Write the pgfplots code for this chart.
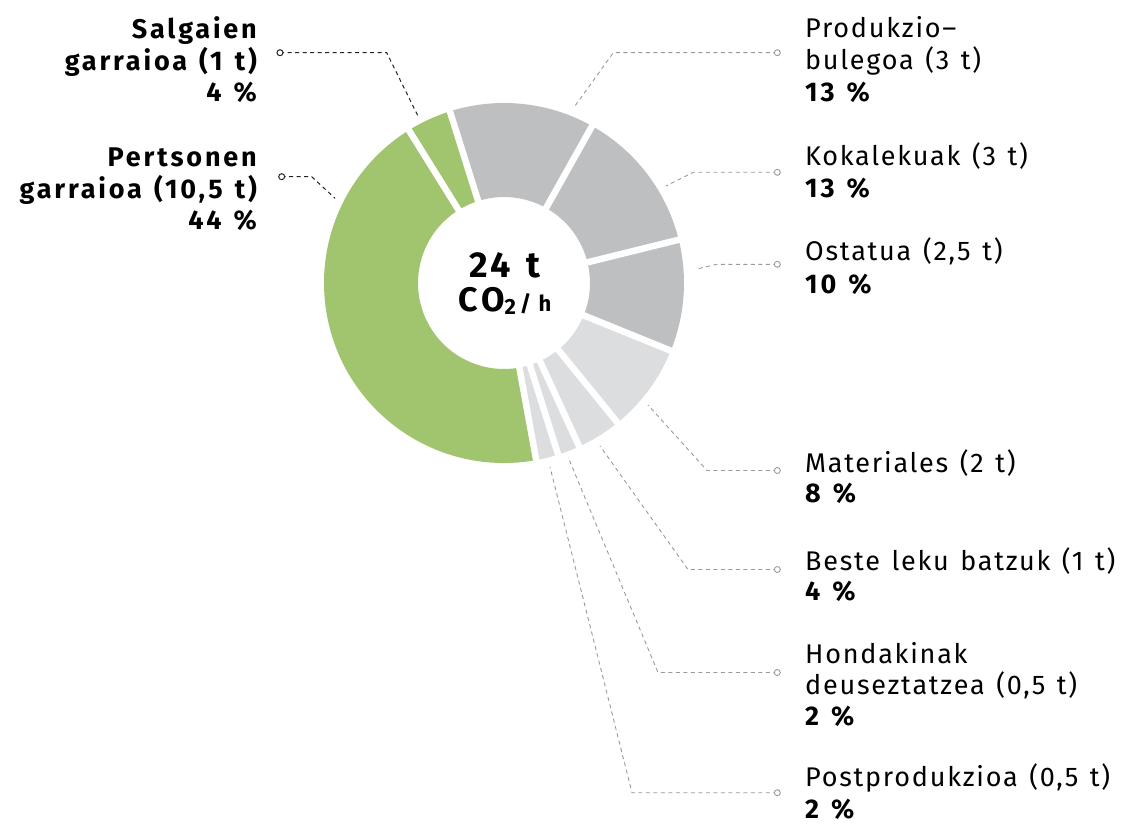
\documentclass[border=0pt]{standalone}
\usepackage{pgfplots}
\usepackage{pgfplotstable}
\pgfplotsset{compat=1.18}
\usepackage{fontspec}
\setmainfont{Fira Sans}[LetterSpace=6.5, WordSpace=1.3, BoldFeatures={LetterSpace=10.5}]
\definecolor{cgreen}{HTML}{A1C46E}
\definecolor{cdark}{HTML}{BEBFC1}
\definecolor{clight}{HTML}{DCDDDF}
\definecolor{cline}{HTML}{9A9A9A}
\definecolor{cblk}{HTML}{222222}

% donut data: percent share, tonnes, colour (clockwise from the top)
\pgfplotstableread[col sep=comma]{
pct,tonnes,col
13,3,cdark
13,3,cdark
10,2.5,cdark
8,2,clight
4,1,clight
2,0.5,clight
2,0.5,clight
44,10.5,cgreen
4,1,cgreen
}\donut

\newcommand\lab[1]{\fontsize{27}{30}\selectfont #1}
\newcommand\labb[1]{\fontsize{27}{30}\selectfont\bfseries #1}

\begin{document}
\begin{tikzpicture}
\def\cum{107.5}
\pgfplotsforeachungrouped \i in {0,...,8}{%
  \pgfplotstablegetelem{\i}{pct}\of\donut
  \pgfmathsetmacro\nxt{\cum-3.6*\pgfplotsretval}%
  \expandafter\xdef\csname sa\i\endcsname{\cum}%
  \expandafter\xdef\csname ea\i\endcsname{\nxt}%
  \pgfplotstablegetelem{\i}{col}\of\donut
  \expandafter\xdef\csname co\i\endcsname{\pgfplotsretval}%
  \xdef\cum{\nxt}%
}
\begin{axis}[x=1pt, y=1pt, scale only axis, xmin=0, xmax=1126, ymin=0, ymax=826,
  y dir=reverse, hide axis, clip=false]
% sectors
\pgfplotsinvokeforeach{0,...,8}{%
  \fill[fill=\csname co#1\endcsname, shift={(axis cs:504,283)}]
    (\csname sa#1\endcsname:180pt)
    arc[start angle=\csname sa#1\endcsname, end angle=\csname ea#1\endcsname, radius=180pt]
    -- (\csname ea#1\endcsname:86pt)
    arc[start angle=\csname ea#1\endcsname, end angle=\csname sa#1\endcsname, radius=86pt]
    -- cycle;
}
% white separators
\pgfplotsinvokeforeach{0,...,8}{%
  \draw[white, line width=6.5pt, shift={(axis cs:504,283)}]
    (\csname sa#1\endcsname:80pt) -- (\csname sa#1\endcsname:190pt);
}
% leader lines
\pgfplotsset{leadL/.style={cblk, line width=1pt, dash pattern=on 4pt off 3.5pt,
   mark=*, mark indices={1}, mark size=3pt, mark options={solid, fill=white, draw=cblk, line width=1pt}},
  leadR/.style={cline, line width=0.9pt, dash pattern=on 4pt off 3.5pt,
   mark=*, mark indices={1}, mark size=3pt, mark options={solid, fill=white, draw=cline, line width=0.9pt}}}
\addplot[leadL] coordinates {(280,52.7) (386.7,52.7) (418.3,116.7)};
\addplot[leadL] coordinates {(281.7,176.7) (311.7,176.7) (335,198.3)};
\addplot[leadR] coordinates {(777.3,52.7) (613.3,52.7) (573.3,108.3)};
\addplot[leadR] coordinates {(777.3,172.3) (693.3,172.3) (666,186)};
\addplot[leadR] coordinates {(777.3,264.3) (716.7,264.3) (696.7,269)};
\addplot[leadR] coordinates {(777.3,470.5) (707,470.5) (648,405)};
\addplot[leadR] coordinates {(777.3,569.5) (688,569.5) (600,446)};
\addplot[leadR] coordinates {(777.3,672.5) (658,672.5) (568,457)};
\addplot[leadR] coordinates {(777.3,792.7) (632,792.7) (550,467)};
% centre text
\node[anchor=base] at (axis cs:505,277) {\fontsize{36}{36}\selectfont\bfseries 24 t};
\node[anchor=base] at (axis cs:505,311.7) {\fontsize{34}{34}\selectfont\bfseries CO\raisebox{-3pt}{\fontsize{22}{22}\selectfont 2}\fontsize{22}{22}\selectfont\,/\,\,h};
% left labels
\node[anchor=base east, inner sep=0pt] at (axis cs:257,38.3) {\labb{Salgaien}};
\node[anchor=base east, inner sep=0pt] at (axis cs:257,71) {\labb{garraioa (1 t)}};
\node[anchor=base east, inner sep=0pt] at (axis cs:257,101.7) {\labb{4 \%}};
\node[anchor=base east, inner sep=0pt] at (axis cs:257,166.7) {\labb{Pertsonen}};
\node[anchor=base east, inner sep=0pt] at (axis cs:257,198.3) {\labb{garraioa (10,5 t)}};
\node[anchor=base east, inner sep=0pt] at (axis cs:257,230) {\labb{44 \%}};
% right labels
\node[anchor=base west, inner sep=0pt] at (axis cs:805,37.3) {\lab{Produkzio–}};
\node[anchor=base west, inner sep=0pt] at (axis cs:805,70) {\lab{bulegoa (3 t)}};
\node[anchor=base west, inner sep=0pt] at (axis cs:805,101.7) {\labb{13 \%}};
\node[anchor=base west, inner sep=0pt] at (axis cs:805,165.7) {\lab{Kokalekuak (3 t)}};
\node[anchor=base west, inner sep=0pt] at (axis cs:805,197.3) {\labb{13 \%}};
\node[anchor=base west, inner sep=0pt] at (axis cs:805,260.7) {\lab{Ostatua (2,5 t)}};
\node[anchor=base west, inner sep=0pt] at (axis cs:805,293.3) {\labb{10 \%}};
\node[anchor=base west, inner sep=0pt] at (axis cs:805,472.7) {\lab{Materiales (2 t)}};
\node[anchor=base west, inner sep=0pt] at (axis cs:805,502.3) {\labb{8 \%}};
\node[anchor=base west, inner sep=0pt] at (axis cs:805,570) {\lab{Beste leku batzuk (1 t)}};
\node[anchor=base west, inner sep=0pt] at (axis cs:805,600) {\labb{4 \%}};
\node[anchor=base west, inner sep=0pt] at (axis cs:805,663.3) {\lab{Hondakinak}};
\node[anchor=base west, inner sep=0pt] at (axis cs:805,694) {\lab{deuseztatzea (0,5 t)}};
\node[anchor=base west, inner sep=0pt] at (axis cs:805,725) {\labb{2 \%}};
\node[anchor=base west, inner sep=0pt] at (axis cs:805,786.7) {\lab{Postprodukzioa (0,5 t)}};
\node[anchor=base west, inner sep=0pt] at (axis cs:805,818) {\labb{2 \%}};
\end{axis}
\pgfresetboundingbox
\path (current axis.south west) rectangle (current axis.north east);
\end{tikzpicture}
\end{document}
